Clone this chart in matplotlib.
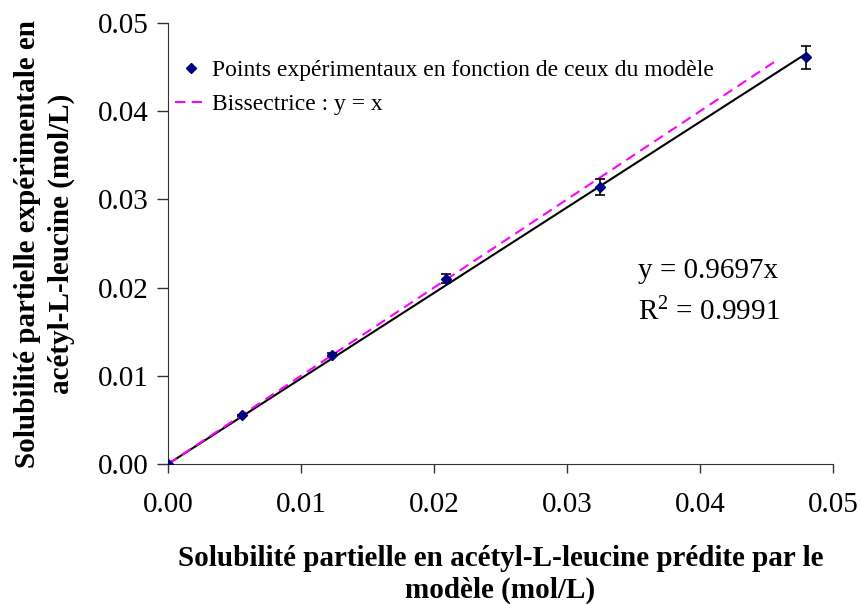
import numpy as np
from matplotlib import pyplot as plt

plt.rcParams['font.family'] = ['Liberation Serif', 'DejaVu Serif']
plt.rcParams['mathtext.fontset'] = 'custom'
plt.rcParams['mathtext.rm'] = 'Liberation Serif'
plt.rcParams['mathtext.it'] = 'Liberation Serif:italic'

# model-predicted vs experimental partial solubility (mol/L)
x_pred = [0.0, 0.0056, 0.0123, 0.0209, 0.0325, 0.0480]
y_exp = [0.0, 0.0055, 0.0124, 0.0210, 0.0314, 0.0461]
y_err = [0.0, 0.0001, 0.0002, 0.0005, 0.0009, 0.0013]

slope = 0.9697
bis_end = 0.0457

fig = plt.figure(figsize=(8.61, 6.04), dpi=100)
ax = fig.add_axes([168 / 861, 1 - 464 / 604, 665 / 861, 441 / 604])

# trend line through origin
xf = np.array([0.0, x_pred[-1]])
ax.plot(xf, slope * xf, color='black', linewidth=1.5, zorder=2)

# bisector y = x
xb = np.array([0.0, bis_end])
ax.plot(xb, xb, color='#ff00ff', linestyle=(0, (5, 3)), linewidth=1.5,
        label='Bissectrice : y = x', zorder=3)

ax.errorbar(x_pred, y_exp, yerr=y_err, fmt='none', ecolor='black',
            elinewidth=1.2, capsize=3.5, capthick=1.2, zorder=4)
ax.plot(x_pred, y_exp, linestyle='none', marker='D', markersize=5.5,
        color='#000080', label='Points expérimentaux en fonction de ceux du modèle',
        zorder=5)

ax.set_xlim(0, 0.05)
ax.set_ylim(0, 0.05)
ax.set_xticks(np.arange(0, 0.051, 0.01))
ax.set_yticks(np.arange(0, 0.051, 0.01))
ax.xaxis.set_major_formatter(plt.FormatStrFormatter('%.2f'))
ax.yaxis.set_major_formatter(plt.FormatStrFormatter('%.2f'))
ax.tick_params(direction='out', width=1, labelsize=21, color='#333333')
ax.tick_params(axis='x', length=6.5, pad=14)
ax.tick_params(axis='y', length=8, pad=6)
ax.spines['top'].set_visible(False)
ax.spines['right'].set_visible(False)
for s in ['left', 'bottom']:
    ax.spines[s].set_color('#333333')

ax.set_xlabel('Solubilité partielle en acétyl-L-leucine prédite par le\nmodèle (mol/L)',
              fontsize=21, fontweight='bold', linespacing=1.25)
ax.xaxis.set_label_coords(0.5, -0.183)
ax.set_ylabel('Solubilité partielle expérimentale en\nacétyl-L-leucine (mol/L)',
              fontsize=21, fontweight='bold', linespacing=1.3)
ax.yaxis.set_label_coords(-0.14, 0.5)

handles, labels = ax.get_legend_handles_labels()
ax.legend(handles[::-1], labels[::-1], loc='upper left',
          bbox_to_anchor=(0.01, 0.917), frameon=False, fontsize=17,
          handlelength=1.4, handletextpad=0.2, borderaxespad=0, borderpad=0,
          labelspacing=0.52)

ax.text(0.707, 0.421, 'y = 0.9697x', transform=ax.transAxes,
        fontsize=21, va='baseline', ha='left')
ax.text(0.707, 0.326, 'R$^{2}$ = 0.9991', transform=ax.transAxes,
        fontsize=21, va='baseline', ha='left')

fig.savefig('out.png', dpi=100)
